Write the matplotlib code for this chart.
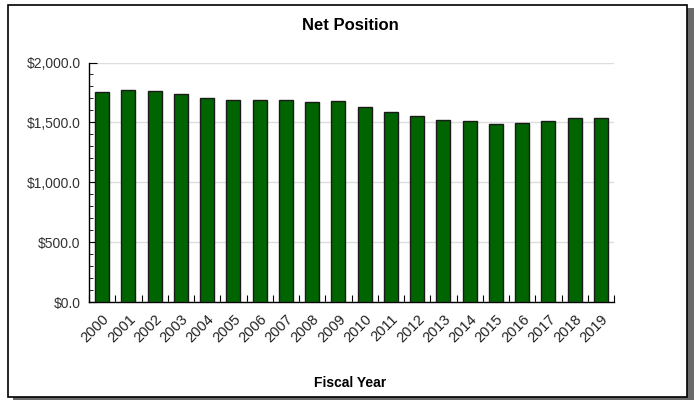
import matplotlib.pyplot as plt
import matplotlib.patches as mpatches
import matplotlib.transforms as mtransforms
from matplotlib.ticker import MultipleLocator, FuncFormatter

plt.rcParams['font.family'] = ['Liberation Sans', 'DejaVu Sans']

# data #
########

years = [str(y) for y in range(2000, 2020)]
net_position = [1755, 1772, 1766, 1736, 1708, 1689, 1686, 1689, 1669, 1680,
                1633, 1591, 1552, 1520, 1512, 1488, 1494, 1513, 1540, 1540]

W, H = 694, 400
fig = plt.figure(figsize=(W / 100, H / 100), dpi=100)

# frame with drop shadow
fig.patches.append(mpatches.Rectangle((13 / W, 0), 681 / W, 392 / H, transform=fig.transFigure,
                                      facecolor='#6b6b6b', edgecolor='none', zorder=0))
fig.patches.append(mpatches.Rectangle((7.5 / W, 3 / H), 679 / W, 392 / H, transform=fig.transFigure,
                                      facecolor='white', edgecolor='black', linewidth=1.2, zorder=1))

# plot area
left, right, top, bottom = 89, 614, 62.5, 302.3
ax = fig.add_axes([left / W, 1 - bottom / H, (right - left) / W, (bottom - top) / H])
ax.set_zorder(2)
ax.patch.set_alpha(0)

x = list(range(len(years)))
ax.bar(x, net_position, width=0.54, color='#006400', edgecolor='#1a1a1a', linewidth=1, zorder=3)

ax.set_xlim(-0.5, len(years) - 0.5)
ax.set_ylim(0, 2000)
ax.yaxis.set_major_locator(MultipleLocator(500))
ax.yaxis.set_minor_locator(MultipleLocator(100))
ax.yaxis.set_major_formatter(FuncFormatter(lambda v, p: '${:,.1f}'.format(v)))
ax.grid(axis='y', color='#dddddd', linewidth=1, zorder=0)

ax.set_xticks([i - 0.5 for i in x] + [len(years) - 0.5])
ax.set_xticklabels([])
ax.set_xticks(x, minor=True)
ax.set_xticklabels(years, minor=True, rotation=45, ha='right', va='top',
                   rotation_mode='anchor', fontsize=10.5, color='#222222')
shift = mtransforms.ScaledTranslation(-7 / 100, 0, fig.dpi_scale_trans)
for lbl in ax.get_xticklabels(minor=True):
    lbl.set_transform(lbl.get_transform() + shift)
ax.tick_params(axis='x', which='major', direction='in', length=5, color='black')
ax.tick_params(axis='x', which='minor', length=0, pad=7)
ax.tick_params(axis='y', which='major', direction='in', length=6, labelsize=10,
               labelcolor='#333333', pad=6)
ax.tick_params(axis='y', which='minor', direction='in', length=3)

for s in ['top', 'right']:
    ax.spines[s].set_visible(False)
for s in ['left', 'bottom']:
    ax.spines[s].set_color('black')
    ax.spines[s].set_linewidth(1)

fig.text(350 / W, 1 - 25 / H, 'Net Position', ha='center', va='center',
         fontsize=12, fontweight='bold', zorder=5)
fig.text(350 / W, 1 - 383 / H, 'Fiscal Year', ha='center', va='center',
         fontsize=10, fontweight='bold', zorder=5)

fig.savefig('out.png', dpi=100)
